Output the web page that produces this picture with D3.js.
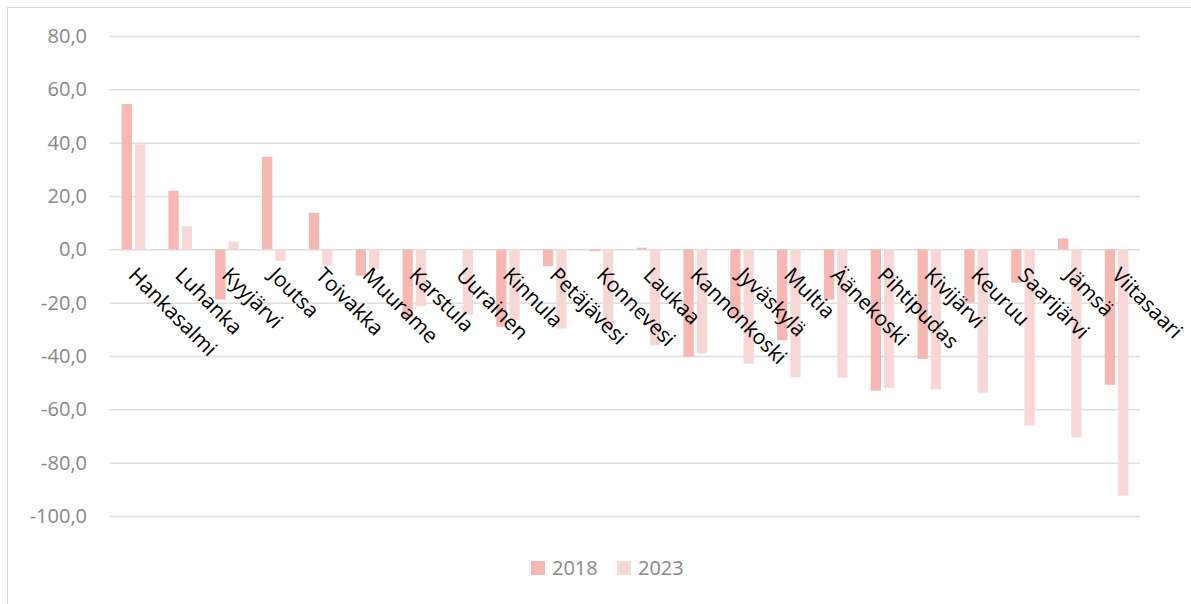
<!DOCTYPE html>
<html>
<head>
<meta charset="utf-8">
<script src="https://cdn.jsdelivr.net/npm/d3@7"></script>
<style>
  html, body { margin: 0; padding: 0; background: #fff; }
  svg { display: block; }
  text { font-family: "Open Sans", "Noto Sans", sans-serif; }
</style>
</head>
<body>
<svg id="chart" width="1191" height="604"></svg>
<script>
// Municipalities, in drawing order
const categories = [
  "Hankasalmi", "Luhanka", "Kyyjärvi", "Joutsa", "Toivakka", "Muurame",
  "Karstula", "Uurainen", "Kinnula", "Petäjävesi", "Konnevesi", "Laukaa",
  "Kannonkoski", "Jyväskylä", "Multia", "Äänekoski", "Pihtipudas",
  "Kivijärvi", "Keuruu", "Saarijärvi", "Jämsä", "Viitasaari"
];

const values2018 = [
  54.5, 22.0, -18.8, 34.7, 13.7, -9.9,
  -25.6, 0.0, -29.0, -6.3, -0.7, 0.6,
  -40.3, -26.1, -34.1, -18.9, -53.0,
  -41.1, -20.0, -12.5, 4.1, -50.8
];

const values2023 = [
  39.4, 8.7, 2.9, -4.3, -6.1, -7.5,
  -21.3, -24.5, -26.6, -29.8, -29.6, -36.0,
  -39.1, -42.9, -48.0, -48.1, -51.9,
  -52.5, -53.8, -66.1, -70.5, -92.4
];

const seriesNames = ["2018", "2023"];
const seriesColors = ["#f7b8b3", "#f8d8d7"];
const yTicks = [80, 60, 40, 20, 0, -20, -40, -60, -80, -100];

const svg = d3.select("#chart");

// Outer chart frame
svg.append("rect")
  .attr("x", 7.5).attr("y", 7.5)
  .attr("width", 1190).attr("height", 610)
  .attr("fill", "none")
  .attr("stroke", "#d9d9d9")
  .attr("stroke-width", 1);

const plotLeft = 110, plotRight = 1140;
const x = d3.scaleBand().domain(categories).range([plotLeft, plotRight]);
const xs = d3.scaleBand().domain(seriesNames).range([-11.8, 11.8]).paddingInner(0.2256);
const y = d3.scaleLinear().domain([-100, 80]).range([516, 36]);

const fmt = v => d3.format(".1f")(v).replace(".", ",").replace("−", "-");

// Y axis: gridlines and labels
const yAxis = d3.axisLeft(y)
  .tickValues(yTicks)
  .tickSize(-(plotRight - plotLeft))
  .tickPadding(23)
  .tickFormat(fmt);

const gy = svg.append("g")
  .attr("transform", `translate(${plotLeft},0)`)
  .call(yAxis);
gy.select(".domain").remove();
gy.selectAll(".tick line")
  .attr("stroke", "#dedede")
  .attr("stroke-width", 1.5);
gy.selectAll(".tick text")
  .attr("fill", "#888888")
  .style("font-size", "20px");

// Bars
const seriesData = seriesNames.map((name, i) => ({
  name,
  color: seriesColors[i],
  values: i === 0 ? values2018 : values2023
}));

seriesData.forEach(s => {
  svg.append("g")
    .selectAll("rect")
    .data(categories.map((c, j) => ({ c, v: s.values[j] })))
    .join("rect")
    .attr("x", d => x(d.c) + x.bandwidth() / 2 + xs(s.name))
    .attr("width", xs.bandwidth())
    .attr("y", d => y(Math.max(0, d.v)))
    .attr("height", d => Math.abs(y(d.v) - y(0)))
    .attr("fill", s.color);
});

// Category labels, rotated 45°
svg.append("g")
  .selectAll("text")
  .data(categories)
  .join("text")
  .attr("transform", d => `translate(${x(d) + x.bandwidth() / 2 - 1},${y(0) + 22}) rotate(45)`)
  .attr("dy", "0.35em")
  .attr("text-anchor", "start")
  .attr("fill", "#000")
  .style("font-size", "21px")
  .text(d => d);

// Legend
const legend = svg.append("g");
const legendX = [531, 617];
seriesData.forEach((s, i) => {
  legend.append("rect")
    .attr("x", legendX[i]).attr("y", 561)
    .attr("width", 14).attr("height", 14)
    .attr("fill", s.color);
  legend.append("text")
    .attr("x", legendX[i] + 21).attr("y", 568)
    .attr("dy", "0.35em")
    .attr("fill", "#888888")
    .style("font-size", "20px")
    .text(s.name);
});
</script>
</body>
</html>
